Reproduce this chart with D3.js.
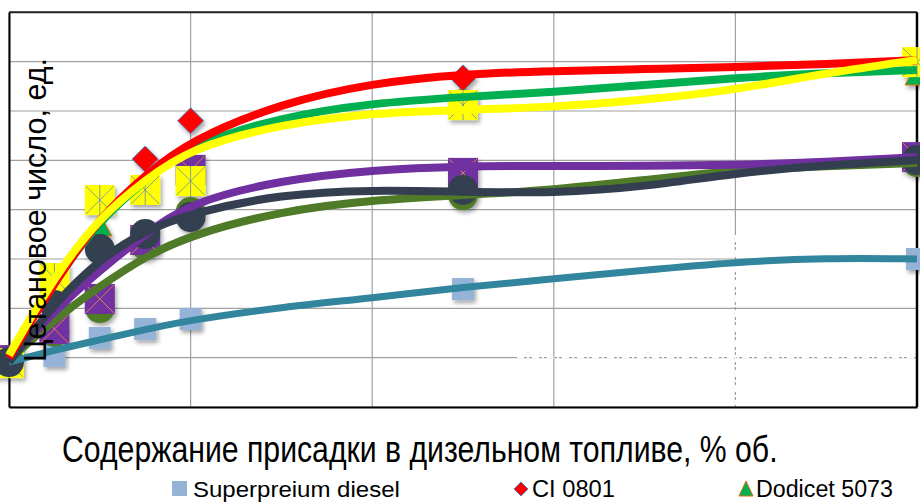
<!DOCTYPE html>
<html><head><meta charset="utf-8">
<script src="https://cdn.jsdelivr.net/npm/d3@7"></script>
<style>
html,body{margin:0;padding:0;background:#fff;}
svg{display:block;font-family:"Liberation Sans",Arial,sans-serif;}
</style></head>
<body><svg id="chart" width="920" height="503"></svg>
<script>
// ---------- data ----------
const xValues = [0, 0.025, 0.05, 0.075, 0.1, 0.25, 0.5];
const superpreium = [45.91, 46.07, 46.8, 47.16, 47.57, 48.78, 50.0];
const ci0801      = [45.9, 49.1, 52.35, 54.05, 55.6, 57.34, 57.98];
const dodicet5073 = [45.9, 48.74, 51.34, 52.72, 53.2, 56.65, 57.46];
const series4     = [45.78, 49.23, 52.39, 52.8, 53.16, 56.24, 57.98];
const series5     = [45.9, 47.16, 48.38, 50.77, 53.61, 53.49, 54.13];
const series6     = [45.91, 47.04, 48.01, 50.57, 51.9, 52.59, 53.93];
const series7     = [45.82, 48.13, 50.4, 51.01, 51.7, 52.8, 54.01];

// trend lines
const trendX = [0, 0.025, 0.05, 0.075, 0.1, 0.15, 0.2, 0.25, 0.3, 0.35, 0.4, 0.45, 0.5];
const trendSuperpreium = [45.82, 46.31, 46.72, 47.14, 47.53, 48.05, 48.42, 48.86, 49.19, 49.55, 49.88, 50.04, 50.0];
const trendCI0801      = [45.99, 49.05, 51.7, 53.4, 54.82, 56.32, 57.13, 57.5, 57.62, 57.7, 57.78, 57.9, 58.06];
const trendDodicet     = [46.03, 49.1, 51.6, 53.2, 54.62, 55.76, 56.32, 56.57, 56.77, 57.05, 57.34, 57.54, 57.66];
const trendSeries4     = [46.1, 49.3, 51.7, 53.2, 54.5, 55.47, 55.92, 56.04, 56.16, 56.44, 56.85, 57.54, 58.07];
const trendSeries5     = [45.91, 47.9, 49.55, 51.0, 52.31, 53.2, 53.61, 53.77, 53.77, 53.77, 53.81, 53.93, 54.13];
const trendSeries6     = [45.91, 47.55, 48.9, 50.1, 50.97, 51.95, 52.39, 52.59, 52.8, 53.2, 53.61, 53.77, 53.89];
const trendSeries7     = [45.82, 48.2, 50.0, 51.15, 51.86, 52.63, 52.8, 52.72, 52.67, 52.92, 53.49, 53.81, 54.01];

const xTicks = [0, 0.1, 0.2, 0.3, 0.4, 0.5];
const yTicks = [44, 46, 48, 50, 52, 54, 56, 58, 60];

const xTitle = "Содержание присадки в дизельном топливе, % об.";
const yTitle = "Цетановое число, ед.";
const legendNames = ["Superpreium diesel", "CI 0801", "Dodicet 5073"];

// ---------- setup ----------
const svg = d3.select("#chart");
const L = 9, R = 917, T = 12.3, B = 407;
const x = d3.scaleLinear().domain([0, 0.5]).range([L, R]);
const y = d3.scaleLinear().domain([44, 60]).range([B, T]);

const defs = svg.append("defs");
const f = defs.append("filter").attr("id","sh").attr("x","-50%").attr("y","-50%").attr("width","200%").attr("height","200%");
f.append("feDropShadow").attr("dx",2).attr("dy",3).attr("stdDeviation",2).attr("flood-color","#000").attr("flood-opacity",0.35);

// grid
const grid = svg.append("g");
grid.selectAll("line.v").data(xTicks).join("line")
  .attr("x1", d=>x(d)).attr("x2", d=>x(d)).attr("y1", T).attr("y2", B)
  .attr("stroke", "#a0a0a0").attr("stroke-width", 1.2);
grid.selectAll("line.h").data(yTicks).join("line")
  .attr("x1", L).attr("x2", R).attr("y1", d=>y(d)).attr("y2", d=>y(d))
  .attr("stroke", "#a0a0a0").attr("stroke-width", 1.2);

// white dash artifacts
svg.append("line").attr("x1", 517).attr("x2", R-2).attr("y1", y(46)).attr("y2", y(46))
  .attr("stroke","#fff").attr("stroke-width",1.6).attr("stroke-dasharray","7,3,2,3");
svg.append("line").attr("x1", x(0.4)).attr("x2", x(0.4)).attr("y1", 235).attr("y2", B-2)
  .attr("stroke","#fff").attr("stroke-width",1.6).attr("stroke-dasharray","7,3,2,3");

// axes (no labels) as frame
const xAxis = svg.append("g").attr("transform", `translate(0,${B})`)
  .call(d3.axisBottom(x).tickValues(xTicks).tickSize(0).tickFormat(""));
xAxis.select(".domain").attr("stroke","#000").attr("stroke-width",2);
const yAxis = svg.append("g").attr("transform", `translate(${L},0)`)
  .call(d3.axisLeft(y).tickValues(yTicks).tickSize(0).tickFormat(""));
yAxis.select(".domain").attr("stroke","#000").attr("stroke-width",2);
svg.append("line").attr("x1",L).attr("x2",R).attr("y1",T).attr("y2",T).attr("stroke","#222").attr("stroke-width",2);
svg.append("line").attr("x1",R).attr("x2",R).attr("y1",T).attr("y2",B).attr("stroke","#000").attr("stroke-width",2.5);

// ---------- markers ----------
const mk = svg.append("g").attr("filter","url(#sh)");
function pts(vals){ return xValues.map((xv,i)=>({x:x(xv), y:y(vals[i])})); }

mk.append("g").selectAll("rect").data(pts(superpreium)).join("rect")
  .attr("x", d=>d.x-11).attr("y", d=>d.y-11).attr("width",22).attr("height",22).attr("fill","#95B3D7");
mk.append("g").selectAll("circle").data(pts(series6)).join("circle")
  .attr("cx", d=>d.x).attr("cy", d=>d.y).attr("r",15).attr("fill","#4F7A28");
mk.append("g").selectAll("path").data(pts(dodicet5073)).join("path")
  .attr("d", d=>`M${d.x},${d.y-12}L${d.x+12},${d.y+10}L${d.x-12},${d.y+10}Z`)
  .attr("fill","#00B050").attr("stroke","#E46C0A").attr("stroke-width",1);
mk.append("g").selectAll("path").data(pts(ci0801)).join("path")
  .attr("d", d=>`M${d.x},${d.y-13}L${d.x+13},${d.y}L${d.x},${d.y+13}L${d.x-13},${d.y}Z`)
  .attr("fill","#FF0000").attr("stroke","#4F81BD").attr("stroke-width",1);
const pg = mk.append("g").selectAll("g").data(pts(series5)).join("g");
pg.append("rect").attr("x", d=>d.x-15).attr("y", d=>d.y-15).attr("width",30).attr("height",30).attr("fill","#7030A0");
pg.append("path").attr("d", d=>`M${d.x-14},${d.y-14}L${d.x+14},${d.y+14}M${d.x+14},${d.y-14}L${d.x-14},${d.y+14}`)
  .attr("stroke","#F79646").attr("stroke-width",0.8);
const yg = mk.append("g").selectAll("g").data(pts(series4)).join("g");
yg.append("rect").attr("x", d=>d.x-15).attr("y", d=>d.y-15).attr("width",30).attr("height",30).attr("fill","#FFFF00");
yg.append("path").attr("d", d=>`M${d.x-14},${d.y-14}L${d.x+14},${d.y+14}M${d.x+14},${d.y-14}L${d.x-14},${d.y+14}M${d.x},${d.y-15}L${d.x},${d.y+15}`)
  .attr("stroke","#6A86B8").attr("stroke-width",0.8);
mk.append("g").selectAll("circle").data(pts(series7)).join("circle")
  .attr("cx", d=>d.x).attr("cy", d=>d.y).attr("r",15).attr("fill","#333F50");

// ---------- trend lines ----------
const line = d3.line().x(d=>x(d[0])).y(d=>y(d[1])).curve(d3.curveBasis);
const trends = [
  [trendSuperpreium, "#31859C", 7],
  [trendSeries6, "#4F7A28", 8],
  [trendSeries5, "#7030A0", 8],
  [trendSeries7, "#333F50", 8],
  [trendDodicet, "#00B050", 8],
  [trendCI0801, "#FF0000", 8],
  [trendSeries4, "#FFFF00", 8]
];
const tg = svg.append("g");
trends.forEach(([vals, col, w])=>{
  tg.append("path").datum(trendX.map((xv,i)=>[xv, vals[i]]))
    .attr("d", line).attr("fill","none").attr("stroke", col).attr("stroke-width", w)
    .attr("stroke-linecap","butt");
});

// ---------- titles (horizontally condensed via scale) ----------
function condensed(parent, tx, ty, rot, size, targetW, anchorMid, str){
  const g = parent.append("g").attr("transform", `translate(${tx},${ty}) rotate(${rot})`);
  const t = g.append("text").attr("font-size", size).attr("fill","#000").text(str);
  const w = t.node().getComputedTextLength();
  const s = targetW / w;
  t.attr("transform", `scale(${s},1)`);
  if (anchorMid) t.attr("x", -w/2);
  return t;
}
condensed(svg, 62, 462, 0, 37, 716, false, xTitle);
condensed(svg, 46, 210, -90, 31, 304, true, yTitle);

// ---------- legend ----------
const lg = svg.append("g");
lg.append("rect").attr("x",172).attr("y",481).attr("width",15).attr("height",15).attr("fill","#95B3D7");
lg.append("path").attr("d","M521,482L528,489L521,496L514,489Z").attr("fill","#FF0000").attr("stroke","#4F81BD").attr("stroke-width",1);
lg.append("path").attr("d","M746,481L753,496L739,496Z").attr("fill","#00B050").attr("stroke","#E46C0A").attr("stroke-width",1);
const legX = [193, 532, 756], legW = [207, 83, 137];
legendNames.forEach((n,i)=>condensed(lg, legX[i], 497, 0, 23, legW[i], false, n));
</script></body></html>
